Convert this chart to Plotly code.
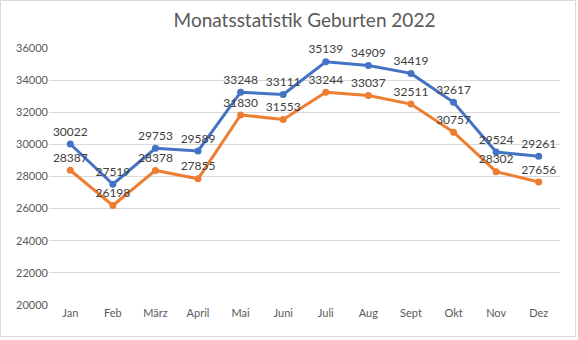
import plotly.graph_objects as go

months = ["Jan", "Feb", "März", "April", "Mai", "Juni", "Juli", "Aug", "Sept", "Okt", "Nov", "Dez"]
series_blue = [30022, 27519, 29753, 29589, 33248, 33111, 35139, 34909, 34419, 32617, 29524, 29261]
series_orange = [28387, 26198, 28378, 27855, 31830, 31553, 33244, 33037, 32511, 30757, 28302, 27656]
y_ticks = [20000, 22000, 24000, 26000, 28000, 30000, 32000, 34000, 36000]

W, H = 578, 340
ML, MR, MT, MB = 49, 18, 48, 35
FONT = "Lato, Open Sans, sans-serif"

fig = go.Figure()
for vals, col in [(series_blue, "#4472C4"), (series_orange, "#ED7D31")]:
    fig.add_trace(go.Scatter(
        x=months, y=vals, mode="lines+markers+text",
        line=dict(color=col, width=3),
        marker=dict(color=col, size=7),
        text=[str(v) for v in vals], textposition="top center",
        textfont=dict(family=FONT, size=12, color="#404040"),
        showlegend=False, cliponaxis=False,
    ))

pw = W - ML - MR
ph = H - MT - MB
fig.add_shape(type="rect", xref="paper", yref="paper",
              x0=(0.5 - ML) / pw, x1=(575.5 - ML) / pw,
              y0=(H - MB - 336.5) / ph, y1=(H - MB - 0.5) / ph,
              line=dict(color="#d9d9d9", width=1), fillcolor="rgba(0,0,0,0)", layer="below")

fig.update_layout(
    width=W, height=H,
    margin=dict(l=ML, r=MR, t=MT, b=MB),
    paper_bgcolor="white", plot_bgcolor="white",
    title=dict(text="Monatsstatistik Geburten 2022", x=0.5, xref="paper", y=1 - 20 / H, yanchor="middle",
               font=dict(family=FONT, size=19, color="#595959")),
    xaxis=dict(showgrid=False, showline=False, tickfont=dict(family=FONT, size=11, color="#595959"),
               ticks="", range=[-0.5, 11.5]),
    yaxis=dict(range=[20000, 36000], tickvals=y_ticks, showgrid=True, gridcolor="#d9d9d9", gridwidth=1,
               zeroline=False, showline=False, ticks="", tickformat="d",
               tickfont=dict(family=FONT, size=11, color="#595959")),
    font=dict(family=FONT),
)

fig.write_html("out.html")
